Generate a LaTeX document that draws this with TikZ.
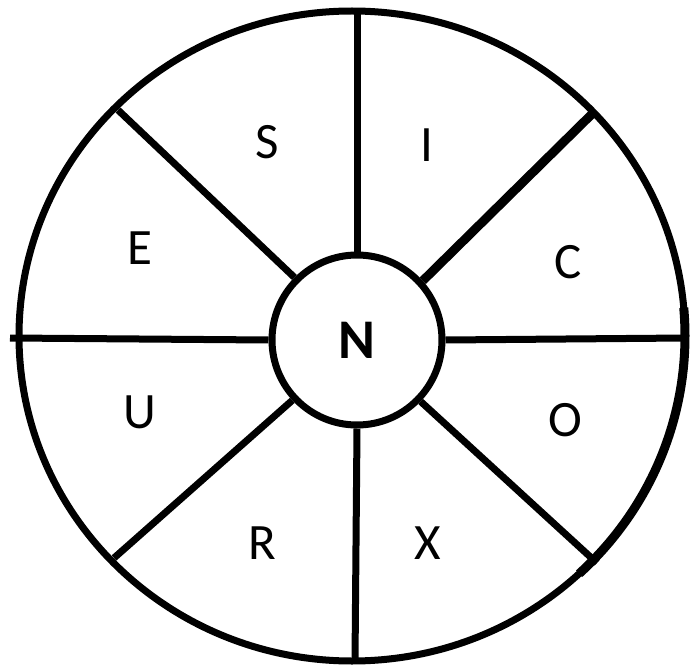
\documentclass[tikz,border=0pt]{standalone}
\usepackage{fontspec}
\setmainfont{Carlito}
\begin{document}
\begin{tikzpicture}[x=1pt,y=-1pt,
  spoke/.style={line width=7pt},
  lbl/.style={font=\fontsize{51}{51}\selectfont, inner sep=0pt}]
\useasboundingbox (0,0) rectangle (691,666);
\fill[white] (0,0) rectangle (691,666);
% outer rim
\draw[line width=7pt] (352,336) ellipse [x radius=333, y radius=325];
\draw[line width=9pt] ([shift={(47:333 and 325)}]352,336) arc[start angle=47, end angle=-5, x radius=333, y radius=325];
% hub
\node[circle, draw, line width=7pt, minimum size=170pt, inner sep=0pt,
      font=\fontsize{56}{56}\selectfont\bfseries] (n) at (357,340) {N};
% outer ends of spokes
\coordinate (pt) at (357,12);
\coordinate (pb) at (355,662);
\coordinate (pl) at (10,338);
\coordinate (pr) at (686,338);
\coordinate (pul) at (118,110);
\coordinate (pur) at (594,112);
\coordinate (pll) at (114,558);
\coordinate (plr) at (597,563);
\draw[spoke] (pt) -- (n.north);
\draw[spoke] (pb) -- (n.south);
\draw[spoke] (pl) -- (n.west);
\draw[spoke] (pr) -- (n.east);
\draw[spoke] (pul) -- (n.{135});
\draw[line width=9pt] (pur) -- (n.{42});
\draw[spoke] (pll) -- (n.{-137});
\draw[spoke] (plr) -- (n.{-44});
% labels
\node[lbl] (s) at (267,142) {S};
\node[lbl] (i) at (427,145) {I};
\node[lbl] (e) at (140,248) {E};
\node[lbl] (c) at (568,262) {C};
\node[lbl] (u) at (140,412) {U};
\node[lbl] (o) at (565,420) {O};
\node[lbl] (r) at (262,543) {R};
\node[lbl] (x) at (428,543) {X};
\end{tikzpicture}
\end{document}
